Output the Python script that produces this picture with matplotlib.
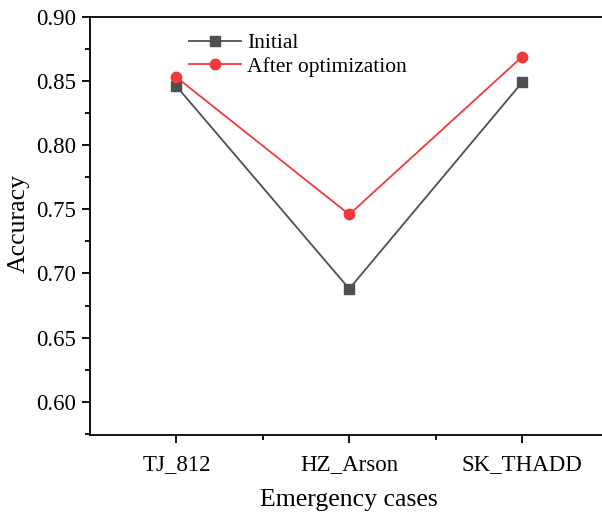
import matplotlib
matplotlib.use("Agg")
import matplotlib.pyplot as plt
from matplotlib.ticker import MultipleLocator, FixedLocator

plt.rcParams['font.family'] = ['Liberation Serif', 'DejaVu Serif']
plt.rcParams['mathtext.fontset'] = 'stix'

cases = ["TJ_812", "HZ_Arson", "SK_THADD"]
initial = [0.846, 0.688, 0.849]
after_opt = [0.853, 0.746, 0.869]

fig = plt.figure(figsize=(6.02, 5.15), dpi=100)
ax = fig.add_axes([0.1495, 0.1553, 0.8613, 0.8117])

x = list(range(1, len(cases) + 1))
ax.plot(x, initial, color='#4f4f4f', marker='s', markersize=6.5, linewidth=1.3, label='Initial')
ax.plot(x, after_opt, color='#ef3b3e', marker='o', markersize=7.5, linewidth=1.3, label='After optimization')

ax.set_xlim(0.5, 3.5)
ax.set_ylim(0.574, 0.90)
ax.set_xticks(x)
ax.set_xticklabels(cases)
ax.xaxis.set_minor_locator(FixedLocator([1.5, 2.5]))
ax.yaxis.set_major_locator(MultipleLocator(0.05))
ax.yaxis.set_minor_locator(MultipleLocator(0.025))
ax.yaxis.set_major_formatter(matplotlib.ticker.FormatStrFormatter('%.2f'))

for s in ax.spines.values():
    s.set_linewidth(1.3)
ax.tick_params(which='major', direction='out', length=6, width=1.3, labelsize=16.5)
ax.tick_params(axis='y', which='major', labelsize=16.5, pad=4)
ax.tick_params(which='minor', direction='out', length=3.5, width=1.3)
ax.tick_params(axis='x', pad=8)

ax.set_xlabel('Emergency cases', fontsize=18.5, labelpad=10)
ax.set_ylabel('Accuracy', fontsize=18.5)
ax.yaxis.set_label_coords(-0.117, 0.505)

ax.legend(loc='upper left', bbox_to_anchor=(0.16, 1.0), frameon=False, fontsize=15.5,
          handlelength=2.4, handletextpad=0.3, labelspacing=0.15, borderaxespad=0.35)

fig.savefig('out.png', dpi=100)
